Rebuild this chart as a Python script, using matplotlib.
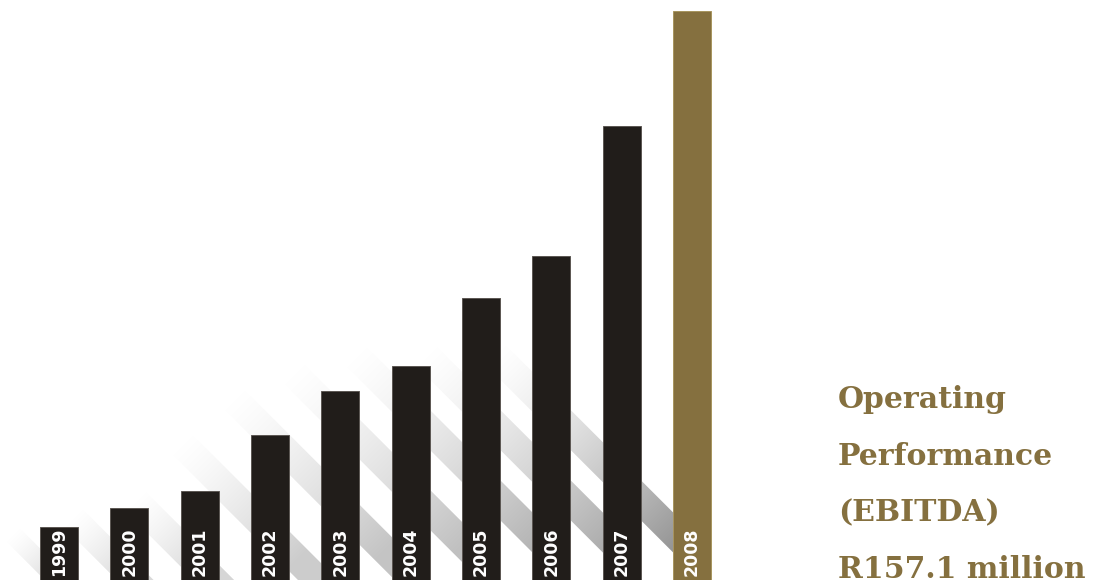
import numpy as np
import matplotlib
matplotlib.use("Agg")
import matplotlib.pyplot as plt
from matplotlib.patches import Polygon

years = ["1999", "2000", "2001", "2002", "2003", "2004", "2005", "2006", "2007", "2008"]
ebitda = [14.6, 19.9, 24.6, 40.0, 52.2, 59.1, 77.9, 89.5, 125.4, 157.1]
caption = ["Operating", "Performance", "(EBITDA)", "R157.1 million"]

dark = "#211d1a"
gold = "#85703f"

W, H = 1118, 585
fig = plt.figure(figsize=(W / 100, H / 100), dpi=100)
fig.patch.set_facecolor("white")
ax = fig.add_axes([0, 5 / H, 760 / W, 580 / H])

x = np.arange(len(years))
xmin, xmax = -59 / 70.33, (760 - 59) / 70.33
ymax = 160.1
ax.set_xlim(xmin, xmax)
ax.set_ylim(0, ymax)
kx = 760 / (xmax - xmin)   # px per category
ky = 580 / ymax            # px per value unit
bw = 0.54

colors = [dark] * (len(years) - 1) + [gold]
edges = ["#5c5753"] * (len(years) - 1) + ["#a8955f"]
ax.bar(x, ebitda, width=bw, color=colors, edgecolor=edges, linewidth=0.7, zorder=3)

# diagonal drop shadows behind the bars (none for the last bar)
hmax = max(ebitda[:-1]) * ky
for xi, h in zip(x[:-1], ebitda[:-1]):
    hp = h * ky
    s = min(0.6 * hp, 138)
    e = 0.75 * s
    wb = min(0.85 * s, 40)
    xl = (xi - bw / 2 - xmin) * kx
    xr_next = (xi + 1 + bw / 2 - xmin) * kx
    pts = [(xl - e, s + e), (xl + s, 0), (xl + s - wb, 0), (xl - e - wb / 2, s + e - wb / 2)]
    pts_d = [(px / kx + xmin, py / ky) for px, py in pts]

    x0, x1 = xl - e - wb / 2, min(xl + s, xr_next)
    y0, y1 = 0, s + e
    nx, ny = int(x1 - x0) + 2, int(y1 - y0) + 2
    PX, PY = np.meshgrid(np.linspace(x0, x1, nx), np.linspace(y0, y1, ny))
    u = ((PX - (xl - e)) - (PY - (s + e))) / 2
    amax = 0.1 + 0.32 * hp / hmax
    a = amax * np.clip(u / (0.8 * (s + e)), 0, 1) ** 1.4
    rgba = np.zeros((ny, nx, 4))
    rgba[..., 3] = a
    im = ax.imshow(rgba, extent=(x0 / kx + xmin, x1 / kx + xmin, 0, y1 / ky),
                   origin="lower", aspect="auto", interpolation="bilinear", zorder=1)
    im.set_clip_path(Polygon(pts_d, closed=True, transform=ax.transData))

ax.set_xlim(xmin, xmax)
ax.set_ylim(0, ymax)

for xi, yr in zip(x, years):
    ax.text(xi, 4 / ky, yr, rotation=90, ha="center", va="bottom", color="white",
            fontsize=12.5, fontweight="bold", zorder=4)

ax.axis("off")

baselines = [408, 465, 521, 578]
for line, yb in zip(caption, baselines):
    fig.text(838 / W, 1 - yb / H, line, ha="left", va="baseline", fontsize=21.5,
             family="DejaVu Serif", fontweight="bold", color=gold)

fig.savefig("out.png", dpi=100)
